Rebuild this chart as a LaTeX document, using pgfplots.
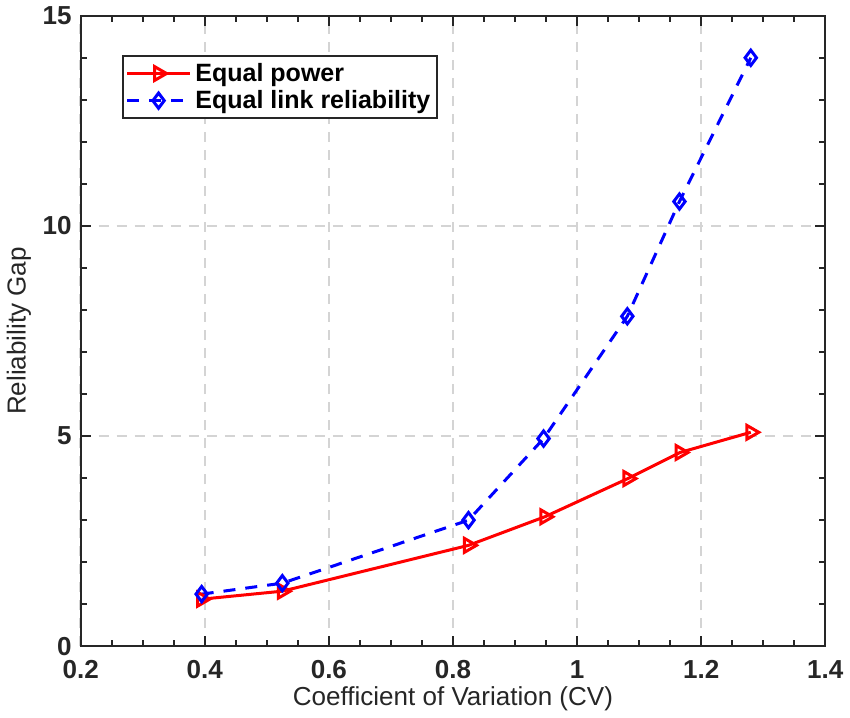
\documentclass[border=0pt]{standalone}
\usepackage{pgfplots}
\pgfplotsset{compat=1.18}
\usepackage{fontspec}
\setmainfont{Liberation Sans}
\definecolor{axc}{HTML}{262626}
\definecolor{gridc}{HTML}{D4D4D4}
\begin{document}
\begin{tikzpicture}
\begin{axis}[
  scale only axis,
  width=372pt, height=315pt,
  xmin=0.2, xmax=1.4, ymin=0, ymax=15,
  xtick={0.2,0.4,...,1.4},
  xticklabels={0.2,0.4,0.6,0.8,1,1.2,1.4},
  ytick={0,5,10,15},
  minor x tick num=3,
  minor y tick num=4,
  tick align=inside,
  major tick length=5pt,
  minor tick length=3pt,
  axis line style={axc, line width=1.1pt},
  every tick/.style={axc, line width=1pt},
  grid=major,
  major grid style={gridc, dash pattern=on 5pt off 4pt, line width=1.2pt},
  tick label style={font=\fontsize{13}{15}\selectfont\bfseries, axc},
  xticklabel style={yshift=-3.5pt},
  yticklabel style={xshift=-1pt},
  /pgf/number format/assume math mode=true,
  xlabel={Coefficient of Variation (CV)},
  ylabel={Reliability Gap},
  label style={font=\fontsize{13}{15}\selectfont, axc},
  xlabel style={yshift=3pt},
  ylabel style={yshift=-1pt},
  legend style={at={(0.055,0.938)}, anchor=north west, draw=axc, line width=1.1pt,
    font=\fontsize{12.5}{14}\selectfont\bfseries, inner sep=1.5pt, row sep=-1pt,
    cells={anchor=west}},
  legend cell align=left,
  legend image code/.code={
    \draw[mark repeat=2,mark phase=2] plot coordinates {(0cm,0cm) (0.55cm,0cm) (1.1cm,0cm)};},
]
\addplot[red, line width=1.5pt, mark=triangle, mark size=4pt,
  mark options={solid, rotate=-90, fill=white}]
  coordinates {(0.395,1.12) (0.525,1.31) (0.825,2.40) (0.948,3.08) (1.082,3.99) (1.166,4.61) (1.28,5.09)};
\addlegendentry{Equal power}
\addplot[blue, line width=1.5pt, dash pattern=on 6pt off 5pt, mark=diamond, mark size=3.8pt,
  mark options={solid, fill=white}]
  coordinates {(0.395,1.24) (0.525,1.50) (0.825,3.00) (0.946,4.94) (1.081,7.85) (1.165,10.58) (1.28,14.0)};
\addlegendentry{Equal link reliability}
\end{axis}
\end{tikzpicture}
\end{document}
